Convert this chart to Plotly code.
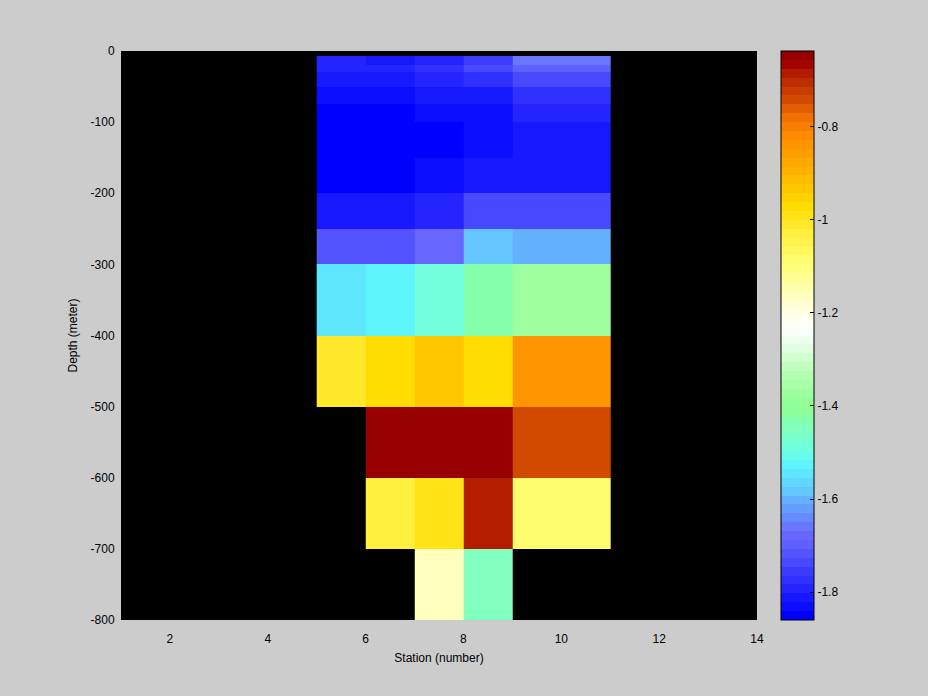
import numpy as np
import plotly.graph_objects as go

# Station bin edges and depth bin edges
station_edges = [5, 6, 7, 8, 9, 11]
depth_edges = [-7, -20, -30, -50, -75, -100, -150, -200, -250, -300, -400, -500, -600, -700, -800]

nan = None
# One row per depth layer (top to bottom), columns = stations 5,6,7,8,9-11
row_0 = [-1.793, -1.812, -1.793, -1.76, -1.66]
row_1 = [-1.793, -1.80, -1.78, -1.736, -1.70]
row_2 = [-1.812, -1.812, -1.793, -1.774, -1.736]
row_3 = [-1.825, -1.825, -1.812, -1.812, -1.774]
row_4 = [-1.855, -1.855, -1.831, -1.831, -1.793]
row_5 = [-1.855, -1.855, -1.855, -1.831, -1.812]
row_6 = [-1.855, -1.855, -1.831, -1.812, -1.812]
row_7 = [-1.815, -1.815, -1.793, -1.736, -1.736]
row_8 = [-1.717, -1.717, -1.68, -1.58, -1.60]
row_9 = [-1.55, -1.52, -1.49, -1.43, -1.38]
row_10 = [-1.01, -0.98, -0.93, -0.97, -0.84]
row_11 = [nan, -0.645, -0.645, -0.645, -0.74]
row_12 = [nan, -1.02, -0.99, -0.68, -1.08]
row_13 = [nan, nan, -1.17, -1.45, nan]
temperature = [row_0, row_1, row_2, row_3, row_4, row_5, row_6, row_7,
               row_8, row_9, row_10, row_11, row_12, row_13]

cmin, cmax = -1.86, -0.637
x_ticks = [2, 4, 6, 8, 10, 12, 14]
x_ticktext = ["2", "4", "6", "8", "10", "12", "14"]
y_ticks = [0, -100, -200, -300, -400, -500, -600, -700, -800]
y_ticktext = ["0", "-100", "-200", "-300", "-400", "-500", "-600", "-700", "-800"]
cb_ticks = [-1.8, -1.6, -1.4, -1.2, -1.0, -0.8]
cb_ticktext = ["-1.8", "-1.6", "-1.4", "-1.2", "-1", "-0.8"]

# Colormap anchors (value, hex), sampled into 64 discrete steps
anchors = [
    (-1.8504, "#0000FF"), (-1.698, "#6060FF"), (-1.67, "#6A6AFF"),
    (-1.62, "#64A0FF"), (-1.58, "#64C8FF"), (-1.53, "#5CF2FF"), (-1.50, "#6CFFE6"),
    (-1.45, "#80FFC0"), (-1.40, "#90FF90"), (-1.33, "#B4FFB4"), (-1.27, "#E6FFE6"),
    (-1.23, "#FFFFFF"), (-1.18, "#FFFFD2"), (-1.10, "#FFFF78"), (-1.03, "#FFF040"),
    (-0.97, "#FFDC00"), (-0.90, "#FFB400"), (-0.82, "#FF8C00"), (-0.78, "#F07000"),
    (-0.74, "#D04800"), (-0.70, "#BC2C00"), (-0.685, "#B41C00"), (-0.666, "#A40400"),
    (-0.647, "#960000"),
]
av = np.array([a[0] for a in anchors])
ac = np.array([[int(h[1:3], 16), int(h[3:5], 16), int(h[5:7], 16)] for _, h in anchors], float)
N = 64
colorscale = []
for i in range(N):
    v = cmin + (i + 0.5) / N * (cmax - cmin)
    rgb = [int(round(np.interp(v, av, ac[:, k]))) for k in range(3)]
    col = "rgb(%d,%d,%d)" % tuple(rgb)
    colorscale.append([i / N, col])
    colorscale.append([(i + 1) / N, col])

font = "Liberation Sans, Arial, sans-serif"

fig = go.Figure(go.Heatmap(
    x=station_edges, y=depth_edges, z=temperature,
    zmin=cmin, zmax=cmax, colorscale=colorscale, hoverongaps=False,
    colorbar=dict(
        x=(781 - 121) / 636, xanchor="left", y=0.5, yanchor="middle",
        len=1, lenmode="fraction", thickness=33, thicknessmode="pixels",
        outlinewidth=1, outlinecolor="black",
        tickvals=cb_ticks, ticktext=cb_ticktext, ticks="inside", ticklen=4,
        tickcolor="black", tickfont=dict(family=font, size=12, color="black"),
        xpad=0, ypad=0,
    ),
))

fig.update_layout(
    width=928, height=696,
    margin=dict(l=121, r=171, t=51, b=76),
    paper_bgcolor="#CCCCCC", plot_bgcolor="black",
    font=dict(family=font, size=12, color="black"),
    xaxis=dict(range=[1, 14], tickvals=x_ticks, ticktext=x_ticktext,
               showgrid=False, zeroline=False,
               ticks="outside", ticklen=8, tickcolor="#CCCCCC",
               title=dict(text="Station (number)", standoff=8, font=dict(size=12))),
    yaxis=dict(range=[-800, 0], tickvals=y_ticks, ticktext=y_ticktext,
               showgrid=False, zeroline=False,
               ticks="outside", ticklen=3, tickcolor="#CCCCCC",
               title=dict(text="Depth (meter)", standoff=10, font=dict(size=12))),
)

fig.write_html("out.html", config={"displayModeBar": False},
               post_script="document.body.style.margin='0';")
